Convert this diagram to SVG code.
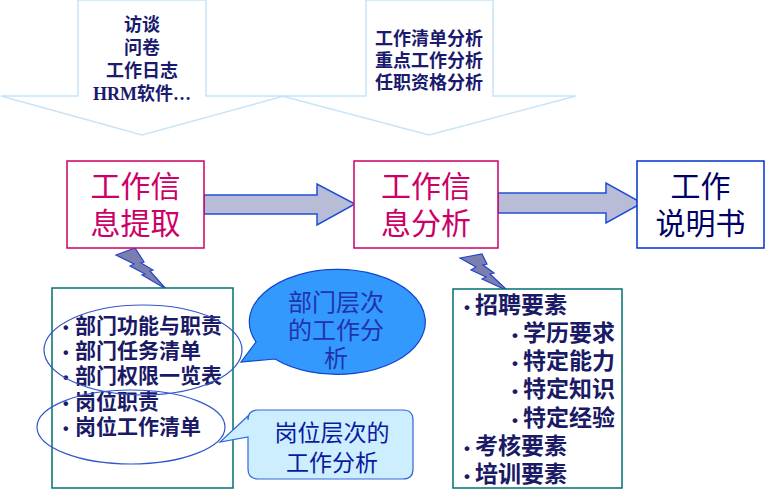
<svg xmlns="http://www.w3.org/2000/svg" width="766" height="491" viewBox="0 0 766 491">
<style>
.cjk{font-family:"Noto Sans CJK SC","Liberation Sans",sans-serif}
.top{font-size:18px;font-weight:bold;fill:#1a1a6e;text-anchor:middle}
.big{font-size:30px;fill:#cc0066;text-anchor:middle}
.big3{font-size:30px;fill:#000066;text-anchor:middle}
.li{font-size:21px;font-weight:bold;fill:#1a1a66}
.ri{font-size:23px;font-weight:bold;fill:#1a1a66}
.bul{font-family:"Liberation Sans",sans-serif;font-weight:bold;fill:#1a1a66}
.box{fill:#fff;stroke:#cc0066;stroke-width:1.5}
.lst{fill:#fff;stroke:#007070;stroke-width:1.5}
.blk{fill:#b8bcd6;stroke:#1f4fd6;stroke-width:1.5}
.bolt{fill:#7a7fb0;stroke:#2244cc;stroke-width:1.2}
.down{fill:#fff;stroke:#c8e4f8;stroke-width:1.5}
.ell{fill:none;stroke:#3355cc;stroke-width:1.2}
</style>
<rect width="766" height="491" fill="#fff"/>
<g id="input-methods">
<polygon class="down" points="78,0 206,0 206,96 284,96 142,135 1,96 78,96"/>
<text class="cjk top" x="142" y="31">访谈</text>
<text class="cjk top" x="142" y="54">问卷</text>
<text class="cjk top" x="142" y="77">工作日志</text>
<text class="top" x="142" y="100" style="font-family:'Liberation Serif','Noto Sans CJK SC',serif">HRM<tspan style="font-family:'Noto Sans CJK SC',sans-serif">软件</tspan>…</text>
</g>
<g id="analysis-methods">
<polygon class="down" points="366,0 493,0 493,96 576,96 429,135 282,96 366,96"/>
<text class="cjk top" x="429" y="45">工作清单分析</text>
<text class="cjk top" x="429" y="67">重点工作分析</text>
<text class="cjk top" x="429" y="89">任职资格分析</text>
</g>
<g id="connectors">
<polygon class="blk" points="204,195 317,195 317,184 355,204 317,225 317,214 204,214"/>
<polygon class="blk" points="498,193 606,193 606,183 642,203 606,223 606,213 498,213"/>
<polygon class="bolt" points="116,255 135,248 144,262 141,263 153,270 150,271 166,289 142,275 145,274 130,266 134,264"/>
<polygon class="bolt" points="460,258 482,254 487,264 483,265 494,273 490,274 508,291 482,279 486,277 471,270 476,267"/>
</g>
<g id="extract">
<rect class="box" x="67" y="161" width="137" height="87"/>
<text class="cjk big" x="135.5" y="197">工作信</text>
<text class="cjk big" x="135.5" y="234">息提取</text>
</g>
<g id="analyze">
<rect class="box" x="354" y="161" width="144" height="87"/>
<text class="cjk big" x="426" y="197">工作信</text>
<text class="cjk big" x="426" y="234">息分析</text>
</g>
<g id="jd">
<rect x="637" y="161" width="127" height="87" fill="#fff" stroke="#0033cc" stroke-width="1.5"/>
<text class="cjk big3" x="700.5" y="197">工作</text>
<text class="cjk big3" x="700.5" y="234">说明书</text>
</g>
<g id="left-list">
<rect class="lst" x="52" y="288" width="181" height="200"/>
<text class="bul" x="63" y="333" font-size="16">•</text><text class="cjk li" x="75" y="333">部门功能与职责</text>
<text class="bul" x="63" y="358" font-size="16">•</text><text class="cjk li" x="75" y="358">部门任务清单</text>
<text class="bul" x="63" y="383" font-size="16">•</text><text class="cjk li" x="75" y="383">部门权限一览表</text>
<text class="bul" x="63" y="409" font-size="16">•</text><text class="cjk li" x="75" y="409">岗位职责</text>
<text class="bul" x="63" y="434" font-size="16">•</text><text class="cjk li" x="75" y="434">岗位工作清单</text>
<ellipse class="ell" cx="143" cy="350" rx="99" ry="45"/>
<ellipse class="ell" cx="131" cy="427" rx="94" ry="37"/>
</g>
<g id="dept-callout">
<path d="M256,342 L241,362 L275,359 A88,52.5 0 1 0 256,342 Z" fill="#3399ff" stroke="#1144cc" stroke-width="1.2"/>
<text class="cjk" x="336" y="311" font-size="24" fill="#2233aa" text-anchor="middle">部门层次</text>
<text class="cjk" x="336" y="339" font-size="24" fill="#2233aa" text-anchor="middle">的工作分</text>
<text class="cjk" x="336" y="367" font-size="24" fill="#2233aa" text-anchor="middle">析</text>
</g>
<g id="post-callout">
<path d="M258,410 H403 Q413,410 413,420 V469 Q413,479 403,479 H258 Q248,479 248,469 V437 L220,442 L248,416 V420 Q248,410 258,410 Z" fill="#cceeff" stroke="#3366dd" stroke-width="1.2"/>
<text class="cjk" x="332" y="441" font-size="23" fill="#0a1aa0" text-anchor="middle">岗位层次的</text>
<text class="cjk" x="332" y="471" font-size="23" fill="#0a1aa0" text-anchor="middle">工作分析</text>
</g>
<g id="right-list">
<rect class="lst" x="453" y="289" width="169" height="199"/>
<text class="bul" x="464" y="313" font-size="17">•</text><text class="cjk ri" x="475" y="313">招聘要素</text>
<text class="bul" x="512" y="341" font-size="17">•</text><text class="cjk ri" x="523" y="341">学历要求</text>
<text class="bul" x="512" y="369" font-size="17">•</text><text class="cjk ri" x="523" y="369">特定能力</text>
<text class="bul" x="512" y="397" font-size="17">•</text><text class="cjk ri" x="523" y="397">特定知识</text>
<text class="bul" x="512" y="426" font-size="17">•</text><text class="cjk ri" x="523" y="426">特定经验</text>
<text class="bul" x="464" y="454" font-size="17">•</text><text class="cjk ri" x="475" y="454">考核要素</text>
<text class="bul" x="464" y="482" font-size="17">•</text><text class="cjk ri" x="475" y="482">培训要素</text>
</g>
</svg>
